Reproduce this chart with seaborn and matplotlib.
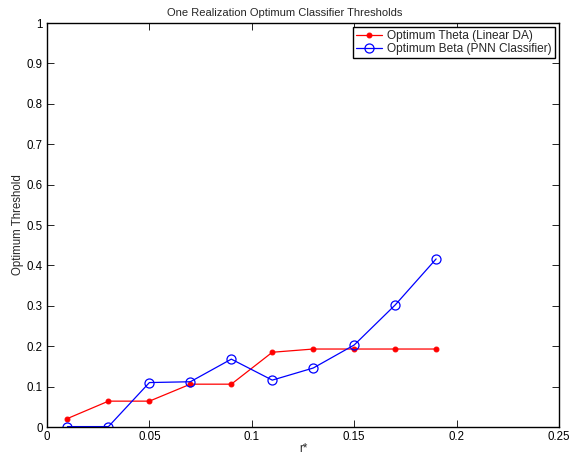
import matplotlib
matplotlib.use("Agg")
import matplotlib.pyplot as plt
import seaborn as sns
import pandas as pd

r_star = [0.01, 0.03, 0.05, 0.07, 0.09, 0.11, 0.13, 0.15, 0.17, 0.19]
theta = [0.021, 0.064, 0.064, 0.106, 0.106, 0.185, 0.193, 0.193, 0.193, 0.193]
beta = [0.001, 0.001, 0.110, 0.112, 0.168, 0.116, 0.146, 0.203, 0.302, 0.416]
xticks = [0, 0.05, 0.1, 0.15, 0.2, 0.25]
xticklabels = ["0", "0.05", "0.1", "0.15", "0.2", "0.25"]
yticks = [0, 0.1, 0.2, 0.3, 0.4, 0.5, 0.6, 0.7, 0.8, 0.9, 1.0]
yticklabels = ["0", "0.1", "0.2", "0.3", "0.4", "0.5", "0.6", "0.7", "0.8", "0.9", "1"]

sns.set_style("ticks")
plt.rcParams['font.family'] = ['Liberation Sans', 'DejaVu Sans']
plt.rcParams['font.size'] = 8

df_t = pd.DataFrame({"r": r_star, "v": theta})
df_b = pd.DataFrame({"r": r_star, "v": beta})

fig = plt.figure(figsize=(5.74, 4.61), dpi=100)
ax = fig.add_axes([47/574, 1-427/461, (559-47)/574, (427-23)/461])

sns.lineplot(data=df_t, x="r", y="v", ax=ax, color="red", marker="o",
             markersize=3.5, markeredgecolor="red", linewidth=0.9,
             label="Optimum Theta (Linear DA)")
sns.lineplot(data=df_b, x="r", y="v", ax=ax, color="blue", marker="o",
             markersize=6.5, markerfacecolor="none", markeredgecolor="blue",
             markeredgewidth=0.9, linewidth=0.9,
             label="Optimum Beta (PNN Classifier)")

ax.set_xlim(0, 0.25)
ax.set_ylim(0, 1)
ax.set_xticks(xticks)
ax.set_xticklabels(xticklabels)
ax.set_yticks(yticks)
ax.set_yticklabels(yticklabels)
ax.tick_params(direction="in", top=True, right=True, length=5, width=0.6,
               labelsize=8.3, colors="black", pad=3)
for s in ax.spines.values():
    s.set_visible(True)
    s.set_linewidth(1.0)
    s.set_color("black")
ax.set_xlabel("r*", fontsize=8.3, labelpad=0)
ax.set_ylabel("Optimum Threshold", fontsize=8.3, labelpad=2)
ax.set_title("One Realization Optimum Classifier Thresholds", fontsize=8.0,
             pad=5, x=(285-47)/512)

leg = ax.legend(loc="upper right", fontsize=8.6, frameon=True, fancybox=False,
                edgecolor="black", framealpha=1, borderpad=0.25, labelspacing=0.1,
                handlelength=2.2, handletextpad=0.4, borderaxespad=0.35)
leg.get_frame().set_linewidth(1.0)

fig.savefig("out.png", dpi=100)
